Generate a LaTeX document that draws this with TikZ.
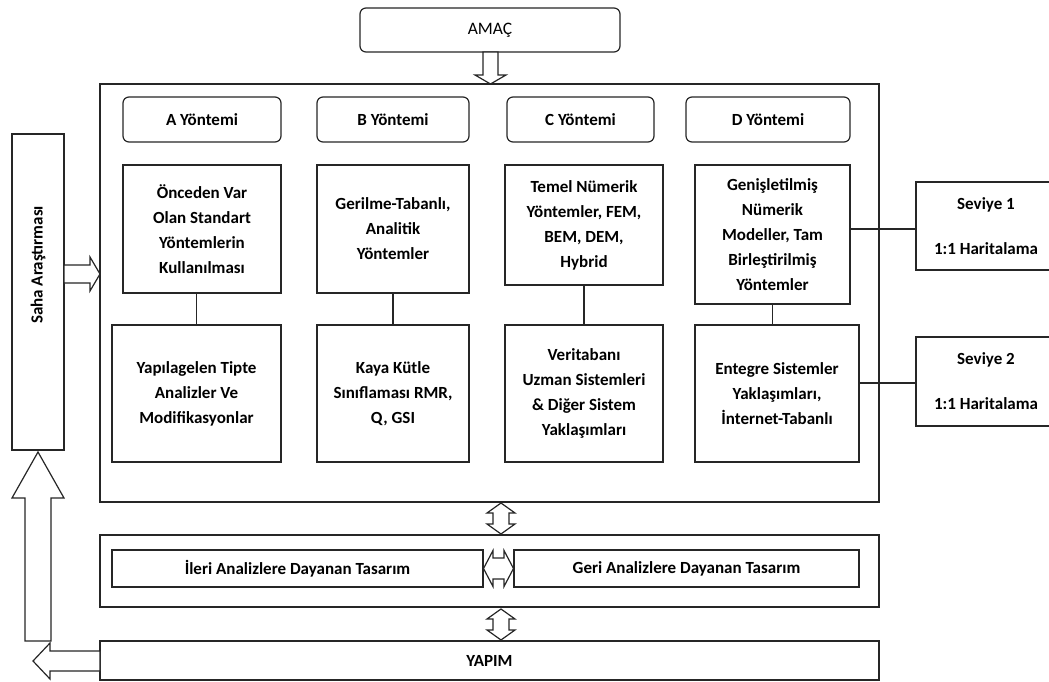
\documentclass[tikz,border=0pt]{standalone}
\usepackage{fontspec}
\setmainfont{Carlito}
\begin{document}
\begin{tikzpicture}[x=1pt,y=-1pt,
  every node/.style={inner sep=0pt},
  line/.style={draw=black!85, line width=1.2pt},
  box/.style={line, rectangle, fill=white, align=center, font=\fontsize{17}{25}\selectfont\bfseries},
  rbox/.style={box, rounded corners=6pt},
  blk/.style={line, fill=white, line join=miter}]
\useasboundingbox (0,0) rectangle (1049,682);
% main frames
\node[line, minimum width=779, minimum height=418] (main) at (489.5,293) {};
\node[line, minimum width=779, minimum height=72] (mid) at (489.5,571) {};
\node[box, font=\fontsize{17}{20}\selectfont\bfseries, minimum width=779, minimum height=39] (yapim) at (489.5,660.5) {YAPIM};
% AMAC
\node[rbox, font=\fontsize{17.5}{20}\selectfont, minimum width=260, minimum height=44] (amac) at (490,30) {AMAÇ};
% headers
\node[rbox, minimum width=158, minimum height=45] (ha) at (202,119.5) {A Yöntemi};
\node[rbox, minimum width=152, minimum height=45] (hb) at (393,119.5) {B Yöntemi};
\node[rbox, minimum width=147, minimum height=45] (hc) at (580.5,119.5) {C Yöntemi};
\node[rbox, minimum width=164, minimum height=45] (hd) at (768,119.5) {D Yöntemi};
% upper boxes
\node[box, minimum width=158, minimum height=128] (a1) at (202,229) {Önceden Var\\Olan Standart\\Yöntemlerin\\Kullanılması};
\node[box, minimum width=152, minimum height=128] (b1) at (393,229) {Gerilme-Tabanlı,\\Analitik\\Yöntemler};
\node[box, minimum width=158, minimum height=120] (c1) at (584,225) {Temel Nümerik\\Yöntemler, FEM,\\BEM, DEM,\\Hybrid};
\node[box, minimum width=155, minimum height=139] (d1) at (772.5,234.5) {Genişletilmiş\\Nümerik\\Modeller, Tam\\Birleştirilmiş\\Yöntemler};
% lower boxes
\node[box, minimum width=169, minimum height=137] (a2) at (196.5,393.5) {Yapılagelen Tipte\\Analizler Ve\\Modifikasyonlar};
\node[box, minimum width=152, minimum height=137] (b2) at (393,393.5) {Kaya Kütle\\Sınıflaması RMR,\\Q, GSI};
\node[box, minimum width=158, minimum height=137] (c2) at (584,393.5) {Veritabanı\\Uzman Sistemleri\\\& Diğer Sistem\\Yaklaşımları};
\node[box, minimum width=164, minimum height=137] (d2) at (777,393.5) {Entegre Sistemler\\Yaklaşımları,\\İnternet-Tabanlı};
% seviye boxes
\node[box, minimum width=140, minimum height=88, font=\fontsize{17}{45}\selectfont\bfseries] (s1) at (986,226) {Seviye 1\\1:1 Haritalama};
\node[box, minimum width=140, minimum height=89, font=\fontsize{17}{45}\selectfont\bfseries] (s2) at (986,381.5) {Seviye 2\\1:1 Haritalama};
\coordinate (s1in) at (915,229);
\coordinate (s2in) at (915,383);
% middle boxes
\node[box, minimum width=371, minimum height=37] (ileri) at (297.5,568.5) {İleri Analizlere Dayanan Tasarım};
\node[box, minimum width=345, minimum height=37] (geri) at (686.5,568.5) {Geri Analizlere Dayanan Tasarım};
% saha
\node[box, minimum width=316, minimum height=52, rotate=90] (saha) at (38,292) {};
\node[font=\fontsize{17}{20}\selectfont\bfseries, rotate=90] (sahat) at (38,265) {Saha Araştırması};
% connectors
\draw[line] (a2.north) -- (a2.north |- a1.south);
\draw[line] (b1.south) -- (b2.north);
\draw[line] (c1.south) -- (c2.north);
\draw[line] (d1.south) -- (d1.south |- d2.north);
\draw[line] (s1in) -- (s1in -| d1.east);
\draw[line] (s2in) -- (s2in -| d2.east);
% block arrows
\draw[blk] (483,52) -- (483,75) -- (475,75) -- (490.5,84) -- (506,75) -- (498,75) -- (498,52) -- cycle;
\draw[blk] (64,265) -- (90,265) -- (90,257) -- (100,274) -- (90,291) -- (90,283) -- (64,283) -- cycle;
\draw[blk] (25,641) -- (25,498) -- (12,498) -- (38,452) -- (64,498) -- (51,498) -- (51,641) -- cycle;
\draw[blk] (100,651) -- (50,651) -- (50,643) -- (33,661) -- (50,679) -- (50,671) -- (100,671) -- cycle;
\draw[blk] (501,503) -- (515,513) -- (509,513) -- (509,524) -- (515,524) -- (501,534) -- (487,524) -- (493,524) -- (493,513) -- (487,513) -- cycle;
\draw[blk] (501,609) -- (515,619) -- (509,619) -- (509,630) -- (515,630) -- (501,640) -- (487,630) -- (493,630) -- (493,619) -- (487,619) -- cycle;
\draw[blk] (483.5,568.5) -- (493,550.5) -- (493,558) -- (504,558) -- (504,550.5) -- (513.5,568.5) -- (504,586.5) -- (504,579) -- (493,579) -- (493,586.5) -- cycle;
\end{tikzpicture}
\end{document}
